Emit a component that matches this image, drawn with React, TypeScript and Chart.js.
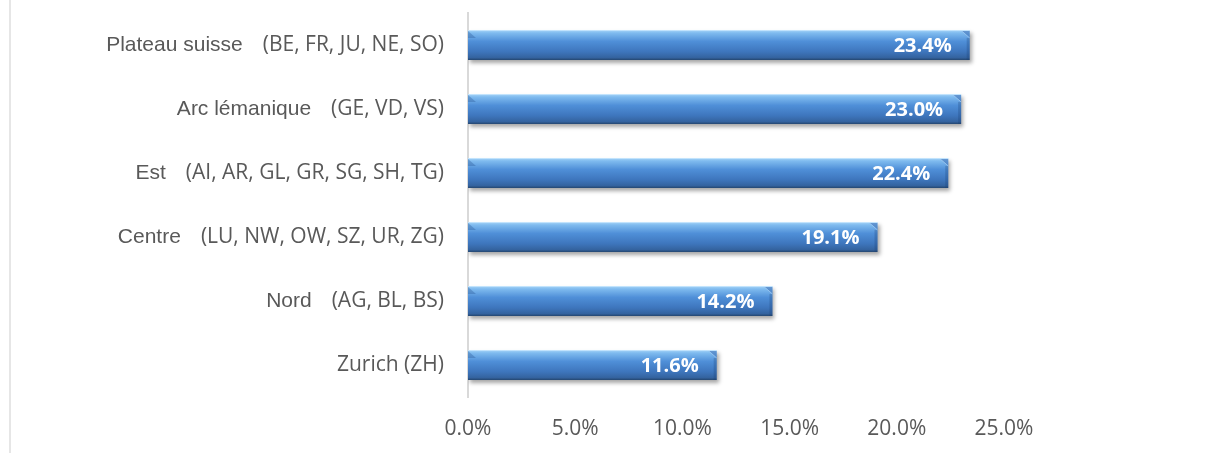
import React, { useEffect, useRef } from "react";
import { Chart, registerables } from "chart.js";

Chart.register(...registerables);

const regions = ["Plateau suisse", "Arc lémanique", "Est", "Centre", "Nord", "Zurich (ZH)"];
const cantons = [
  "(BE, FR, JU, NE, SO)",
  "(GE, VD, VS)",
  "(AI, AR, GL, GR, SG, SH, TG)",
  "(LU, NW, OW, SZ, UR, ZG)",
  "(AG, BL, BS)",
  "",
];
const shares = [23.4, 23.0, 22.4, 19.1, 14.2, 11.6];
const xTicks = [0, 5, 10, 15, 20, 25];

const TEXT = "#595959";
const BAR_PCT = 0.47;

function barFill(c: any) {
  const chart = c.chart;
  const yScale = chart.scales && chart.scales.y;
  if (!yScale || yScale.height == null || c.dataIndex == null) return "#4f8fd8";
  const cy = yScale.getPixelForValue(c.dataIndex);
  const h = (yScale.height / regions.length) * BAR_PCT;
  const top = cy - h / 2;
  const bot = cy + h / 2;
  const g = chart.ctx.createLinearGradient(0, top, 0, bot);
  g.addColorStop(0, "#a9d6f8");
  g.addColorStop(0.1, "#7fbbef");
  g.addColorStop(0.38, "#4f8fd8");
  g.addColorStop(0.72, "#3e76bd");
  g.addColorStop(0.92, "#34639f");
  g.addColorStop(1, "#24466f");
  return g;
}

const barStyler = {
  id: "barStyler",
  beforeDatasetDraw(chart: any) {
    const ctx = chart.ctx;
    ctx.save();
    ctx.shadowColor = "rgba(0,0,0,0.35)";
    ctx.shadowBlur = 4;
    ctx.shadowOffsetX = 2;
    ctx.shadowOffsetY = 3;
  },
  afterDatasetDraw(chart: any) {
    chart.ctx.restore();
  },
  afterDatasetsDraw(chart: any) {
    const ctx = chart.ctx;
    const meta = chart.getDatasetMeta(0);
    meta.data.forEach((el: any, i: number) => {
      const top = el.y - el.height / 2;
      const bot = el.y + el.height / 2;
      const left = el.base;
      const right = el.x;
      const b = 8;
      ctx.save();
      // right bevel: diagonal facet at top-right, darker edge below
      ctx.beginPath();
      ctx.moveTo(right - b, top + 1);
      ctx.lineTo(right, top + 1);
      ctx.lineTo(right, top + b);
      ctx.closePath();
      ctx.fillStyle = "rgba(60,110,180,0.55)";
      ctx.fill();
      ctx.beginPath();
      ctx.moveTo(right - b, top + 1);
      ctx.lineTo(right, top + b);
      ctx.strokeStyle = "rgba(170,210,245,0.7)";
      ctx.lineWidth = 1;
      ctx.stroke();
      ctx.fillStyle = "rgba(25,60,110,0.25)";
      ctx.fillRect(right - 3, top + b, 3, bot - top - b);
      // left bevel
      ctx.beginPath();
      ctx.moveTo(left, top + 1);
      ctx.lineTo(left + b, top + b);
      ctx.lineTo(left, top + b);
      ctx.closePath();
      ctx.fillStyle = "rgba(40,85,150,0.35)";
      ctx.fill();
      // top highlight line
      ctx.fillStyle = "rgba(210,235,255,0.7)";
      ctx.fillRect(left, top, right - left, 1);
      // data label
      ctx.font = "bold 20px 'Open Sans'";
      ctx.fillStyle = "#ffffff";
      ctx.textAlign = "right";
      ctx.textBaseline = "middle";
      ctx.fillText(shares[i].toFixed(1) + "%", right - 18, el.y + 1);
      ctx.restore();
    });
  },
};

const yLabels = {
  id: "yLabels",
  afterDraw(chart: any) {
    const ctx = chart.ctx;
    const yScale = chart.scales.y;
    const xRight = chart.chartArea.left - 24;
    ctx.save();
    ctx.fillStyle = TEXT;
    ctx.textAlign = "right";
    ctx.textBaseline = "middle";
    regions.forEach((name: string, i: number) => {
      const y = yScale.getPixelForValue(i);
      if (cantons[i]) {
        ctx.font = "21px 'Open Sans'";
        ctx.fillText(cantons[i], xRight, y);
        const w = ctx.measureText(cantons[i]).width;
        ctx.font = "21px 'Liberation Sans'";
        ctx.fillText(name, xRight - w - 20, y);
      } else {
        ctx.font = "21px 'Open Sans'";
        ctx.fillText(name, xRight, y);
      }
    });
    ctx.restore();
  },
};

export default function App() {
  const ref = useRef<HTMLCanvasElement>(null);
  useEffect(() => {
    const labels = regions.map((r, i) => (cantons[i] ? r + " " + cantons[i] : r));
    const chart = new Chart(ref.current as HTMLCanvasElement, {
      type: "bar",
      data: {
        labels,
        datasets: [
          {
            data: shares,
            backgroundColor: barFill,
            borderWidth: 0,
            barPercentage: BAR_PCT,
            categoryPercentage: 1,
          },
        ],
      },
      options: {
        indexAxis: "y",
        responsive: false,
        animation: false,
        events: [],
        layout: { padding: { top: 13, right: 204, bottom: 0, left: 0 } },
        plugins: { legend: { display: false }, tooltip: { enabled: false } },
        scales: {
          x: {
            min: 0,
            max: 25,
            afterBuildTicks: (s: any) => {
              s.ticks = xTicks.map((v) => ({ value: v }));
            },
            afterFit: (s: any) => {
              s.height = 56;
            },
            grid: { display: false, drawTicks: false },
            border: { display: false },
            ticks: {
              padding: 19,
              color: TEXT,
              font: { family: "'Open Sans'", size: 21 },
              callback: (v: any) => Number(v).toFixed(1) + "%",
            },
          },
          y: {
            afterFit: (s: any) => {
              s.width = 468;
            },
            grid: { display: false, drawTicks: false },
            border: { display: true, color: "#d9d9d9", width: 2 },
            ticks: { display: false },
          },
        },
      },
      plugins: [barStyler, yLabels],
    });
    return () => chart.destroy();
  }, []);
  return (
    <div style={{ position: "fixed", left: 0, top: 0, width: 1208, height: 453, background: "#fff" }}>
      <div style={{ position: "absolute", left: 9, top: 0, width: 2, height: 453, background: "#e6e6e6" }} />
      <canvas ref={ref} width={1208} height={453} style={{ position: "absolute", left: 0, top: 0 }} />
    </div>
  );
}
